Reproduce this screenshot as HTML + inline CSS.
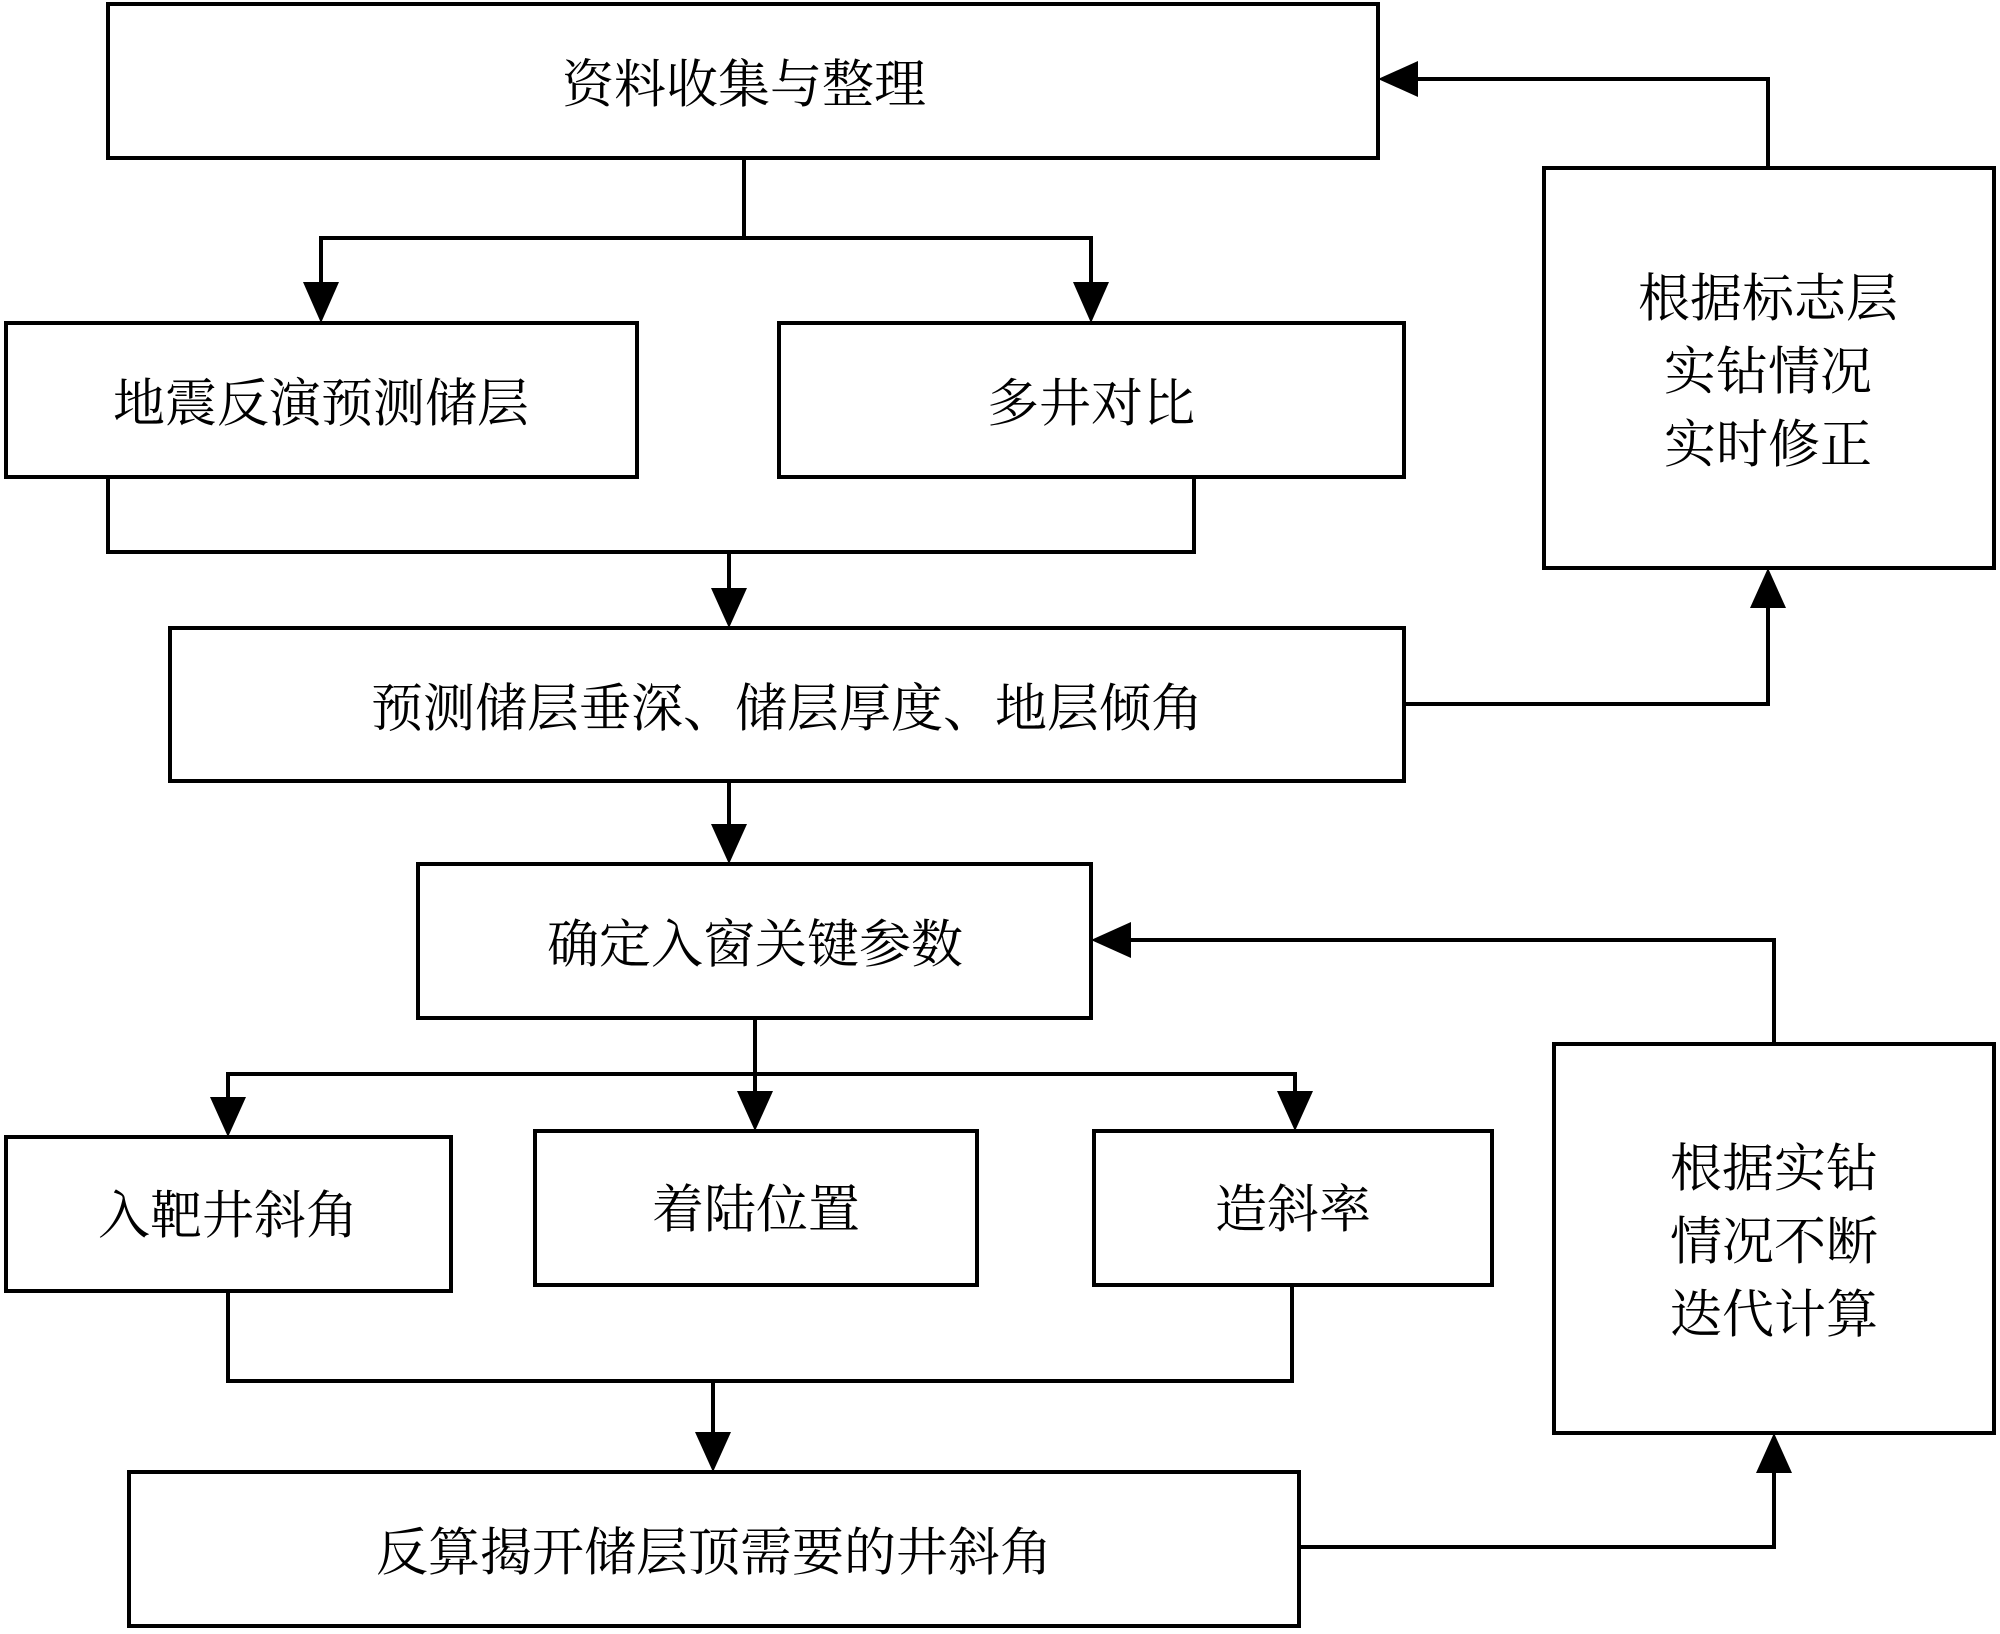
<!DOCTYPE html>
<html><head><meta charset="utf-8"><style>
html,body{margin:0;padding:0;background:#fff}
svg{display:block}
text{font-family:"Liberation Serif","Noto Serif CJK SC",serif;font-size:52px;fill:#000;text-anchor:middle;dominant-baseline:central}
</style></head><body>
<svg width="2000" height="1634" viewBox="0 0 2000 1634" xmlns="http://www.w3.org/2000/svg">
<defs>
<marker id="a" markerWidth="10" markerHeight="10" refX="9" refY="5" orient="auto" markerUnits="userSpaceOnUse" viewBox="0 0 10 10">
</marker>
</defs>
<g fill="none" stroke="#000" stroke-width="4">
<rect x="108" y="4" width="1270" height="154"/>
<rect x="6" y="323" width="631" height="154"/>
<rect x="779" y="323" width="625" height="154"/>
<rect x="1544" y="168" width="450" height="400"/>
<rect x="170" y="628" width="1234" height="153"/>
<rect x="418" y="864" width="673" height="154"/>
<rect x="6" y="1137" width="445" height="154"/>
<rect x="535" y="1131" width="442" height="154"/>
<rect x="1094" y="1131" width="398" height="154"/>
<rect x="1554" y="1044" width="440" height="389"/>
<rect x="129" y="1472" width="1170" height="154"/>
<polyline points="744,158 744,238"/>
<polyline points="321,282 321,238 1091,238 1091,282"/>
<polyline points="108,477 108,552 1194,552 1194,477"/>
<polyline points="729,552 729,588"/>
<polyline points="1404,704 1768,704 1768,608"/>
<polyline points="1768,168 1768,79 1418,79"/>
<polyline points="729,781 729,824"/>
<polyline points="755,1018 755,1074"/>
<polyline points="228,1097 228,1074 1295,1074 1295,1091"/>
<polyline points="755,1074 755,1091"/>
<polyline points="228,1291 228,1381 1292,1381 1292,1285"/>
<polyline points="713,1381 713,1432"/>
<polyline points="1299,1547 1774,1547 1774,1473"/>
<polyline points="1774,1044 1774,940 1131,940"/>
</g>
<g fill="#000">
<polygon points="303,282 339,282 321,323"/>
<polygon points="1073,282 1109,282 1091,323"/>
<polygon points="711,588 747,588 729,628"/>
<polygon points="1750,608 1786,608 1768,568"/>
<polygon points="1418,61 1418,97 1378,79"/>
<polygon points="711,824 747,824 729,864"/>
<polygon points="210,1097 246,1097 228,1137"/>
<polygon points="737,1091 773,1091 755,1131"/>
<polygon points="1277,1091 1313,1091 1295,1131"/>
<polygon points="695,1432 731,1432 713,1472"/>
<polygon points="1756,1473 1792,1473 1774,1433"/>
<polygon points="1131,922 1131,958 1091,940"/>
</g>
<text x="744" y="86">资料收集与整理</text>
<text x="321" y="405">地震反演预测储层</text>
<text x="1091" y="405">多井对比</text>
<text x="1768" y="300">根据标志层</text>
<text x="1768" y="373">实钻情况</text>
<text x="1768" y="446">实时修正</text>
<text x="787" y="710">预测储层垂深、储层厚度、地层倾角</text>
<text x="755" y="946">确定入窗关键参数</text>
<text x="228" y="1217">入靶井斜角</text>
<text x="756" y="1211">着陆位置</text>
<text x="1293" y="1211">造斜率</text>
<text x="1774" y="1170">根据实钻</text>
<text x="1774" y="1243">情况不断</text>
<text x="1774" y="1316">迭代计算</text>
<text x="714" y="1554">反算揭开储层顶需要的井斜角</text>
</svg>
</body></html>
